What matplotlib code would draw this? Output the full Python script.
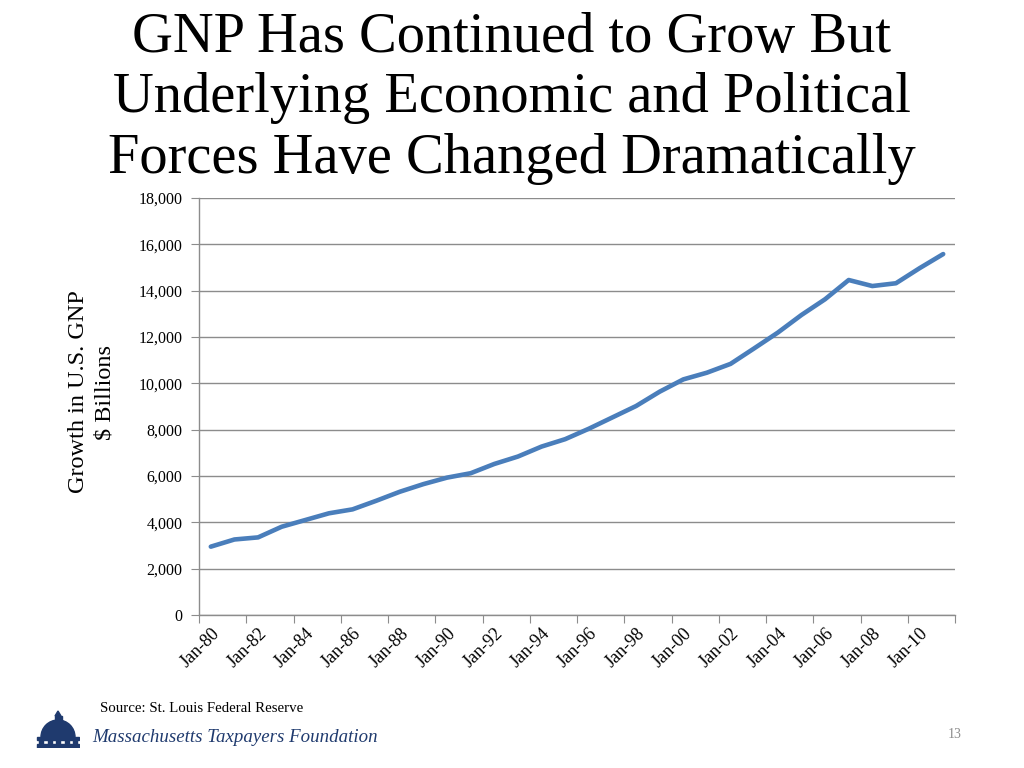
import matplotlib
matplotlib.use("Agg")
import matplotlib.pyplot as plt
from matplotlib.patches import Wedge, Rectangle, Polygon

years = list(range(1980, 2012))
gnp = [2950, 3260, 3350, 3810, 4100, 4390, 4560, 4930, 5320, 5650,
       5930, 6120, 6520, 6840, 7270, 7590, 8040, 8530, 9020, 9640,
       10170, 10460, 10840, 11510, 12190, 12950, 13630, 14460, 14200, 14320,
       14970, 15580]
tick_labels = ["Jan-%02d" % (y % 100) for y in years[::2]]

title_lines = ["GNP Has Continued to Grow But",
               "Underlying Economic and Political",
               "Forces Have Changed Dramatically"]
ylabel = "Growth in U.S. GNP\n$ Billions"
source = "Source: St. Louis Federal Reserve"
org = "Massachusetts Taxpayers Foundation"
page = "13"

serif = ["Liberation Serif", "DejaVu Serif"]
grid_c = "#8c8c8c"
line_c = "#4a7ebb"
navy = "#1f3a6e"

fig = plt.figure(figsize=(10.24, 7.68), dpi=100)
ax = fig.add_axes([199/1024, 1-615/768, (955-199)/1024, (615-198)/768])

xs = list(range(len(years)))
ax.plot(xs, gnp, color=line_c, lw=3.3, solid_capstyle="round", solid_joinstyle="round")
ax.set_xlim(-0.5, len(years) - 0.5)
ax.set_ylim(0, 18000)
ax.set_yticks(range(0, 18001, 2000))
ax.set_yticklabels(["{:,}".format(v) for v in range(0, 18001, 2000)],
                   fontfamily=serif, fontsize=11.5)
ax.yaxis.grid(True, color=grid_c, lw=1)
ax.set_axisbelow(True)

# category ticks between categories, labels on every other category
ax.set_xticks([i - 0.5 for i in range(0, len(years) + 1, 2)])
ax.set_xticklabels([])
ax.set_xticks(xs[::2], minor=True)
ax.set_xticklabels(tick_labels, minor=True, rotation=45, ha="right",
                   rotation_mode="anchor", fontfamily=serif, fontsize=13)
ax.tick_params(axis="x", which="minor", length=0, pad=7)
ax.tick_params(axis="x", which="major", length=6, color=grid_c, direction="out")
ax.tick_params(axis="y", length=6, color=grid_c, direction="out", pad=6)
for s in ["top", "right"]:
    ax.spines[s].set_visible(False)
for s in ["left", "bottom"]:
    ax.spines[s].set_color(grid_c)
    ax.spines[s].set_linewidth(1)

fig.text(92/1024, 1-392/768, ylabel, rotation=90, ha="center", va="center",
         fontfamily=serif, fontsize=17.5, linespacing=1.35)

for i, t in enumerate(title_lines):
    fig.text(512/1024, 1-(52 + 60.5*i)/768, t, ha="center", va="baseline",
             fontfamily=serif, fontsize=40.7)

fig.text(100/1024, 1-712/768, source, ha="left", va="baseline",
         fontfamily=serif, fontsize=10.7)
fig.text(92/1024, 1-742/768, org, ha="left", va="baseline",
         fontfamily=serif, fontsize=13.6, style="italic", color=navy)
fig.text(955/1024, 1-738/768, page, ha="center", va="baseline",
         fontfamily=serif, fontsize=10, color="#8c8c8c")

# dome logo
lax = fig.add_axes([36/1024, 1-748/768, 44/1024, 38/768])
lax.set_xlim(0, 44)
lax.set_ylim(0, 38)
lax.axis("off")
lax.add_patch(Rectangle((1, 0), 42, 4, color=navy))
for k in range(5):
    lax.add_patch(Rectangle((3 + k * 8.5, 4), 4, 4, color=navy))
lax.add_patch(Rectangle((1, 8), 42, 3, color=navy))
lax.add_patch(Wedge((22, 11), 17, 0, 180, color=navy))
lax.add_patch(Rectangle((18.5, 26), 7, 6, color=navy))
lax.add_patch(Polygon([(19, 32), (25, 32), (22, 37)], color=navy))

fig.savefig("out.png", dpi=100, facecolor="white")
